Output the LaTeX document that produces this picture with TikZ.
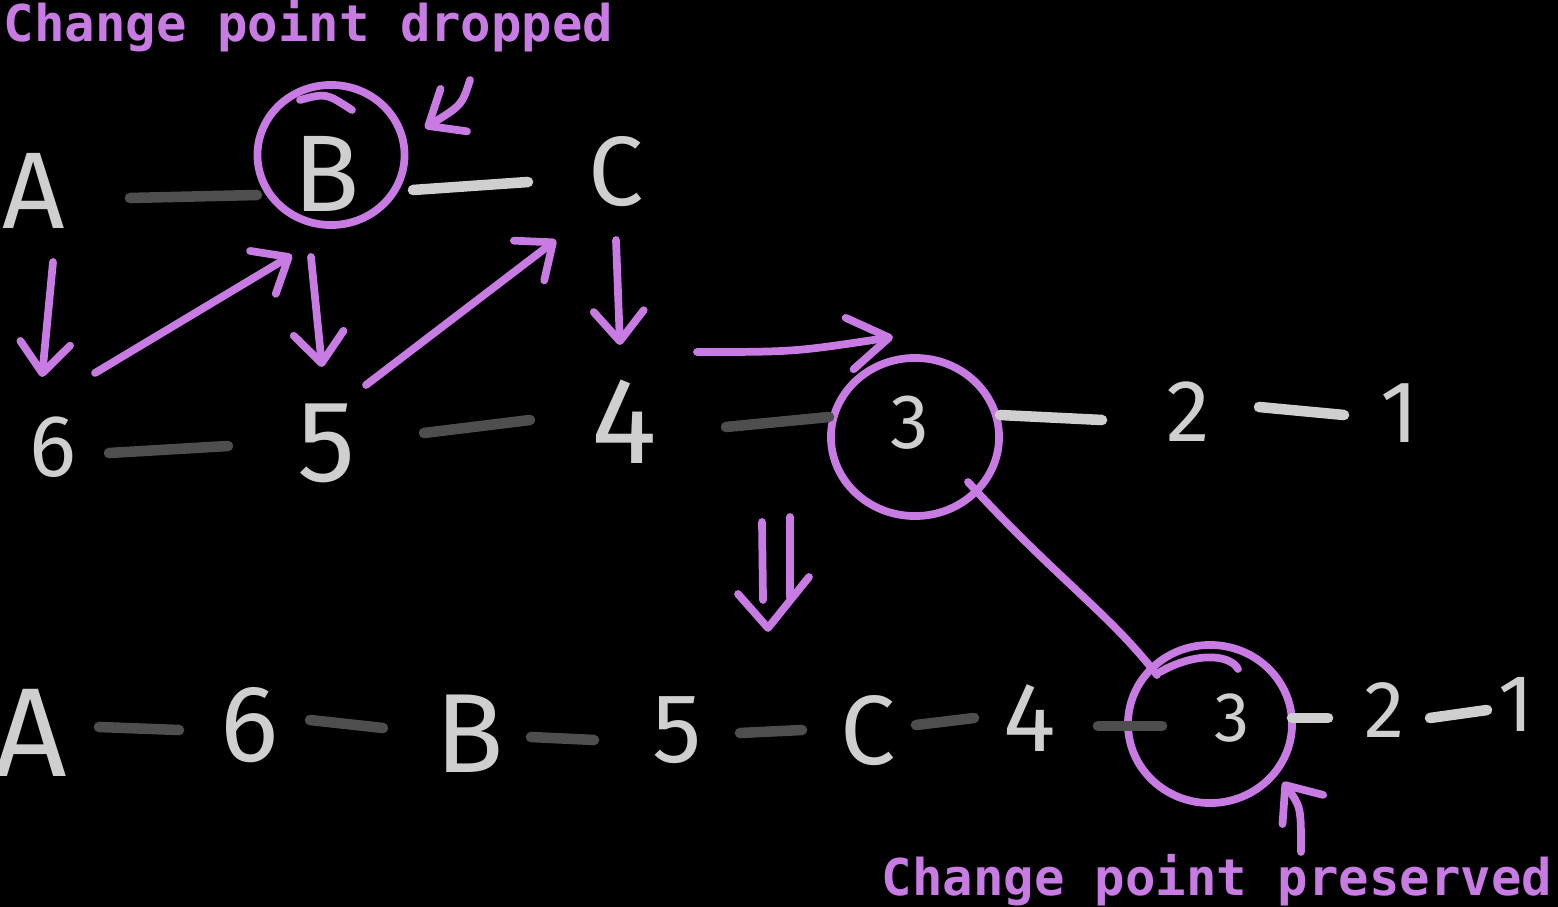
\documentclass[tikz,border=0pt]{standalone}
\usepackage{fontspec}
\setsansfont{Fira Sans}
\setmonofont{DejaVu Sans Mono}
\usetikzlibrary{arrows.meta,calc,shapes.geometric}
\definecolor{lilac}{HTML}{C97BE4}
\definecolor{chalk}{HTML}{CFCFCF}
\definecolor{slate}{HTML}{4E4E4E}

\begin{document}
\begin{tikzpicture}[x=0.01cm,y=-0.01cm,
		glyph/.style={text=chalk,inner sep=0pt,font=\sffamily\fontsize{#1}{#1}\selectfont},
		glyph/.default=30,
		note/.style={text=lilac,inner sep=0pt,font=\ttfamily\bfseries\fontsize{14.4}{15}\selectfont},
		ring/.style={ellipse,draw=lilac,line width=2.2pt,inner sep=0pt},
		darkdash/.style={draw=slate,line width=3pt,line cap=round},
		lightdash/.style={draw=chalk,line width=3pt,line cap=round},
		pline/.style={draw=lilac,line width=2.2pt,line cap=round,line join=round},
		parrow/.style={pline,-{Straight Barb[length=0.3cm,width=0.5cm,round]}}]
	\fill[black] (0,0) rectangle (1558,907);
	\useasboundingbox (0,0) rectangle (1558,907);

	% titles
	\node[note,anchor=base west] (droptitle) at (3,42) {Change point dropped};
	\node[note,anchor=base east] (keeptitle) at (1553,895) {Change point preserved};

	% top row
	\node[glyph=31] (ta) at (34,191) {A};
	\node[glyph=31] (tb) at (327,174) {B};
	\node[glyph=28] (tc) at (616,172) {C};
	\node[ring,minimum width=1.47cm,minimum height=1.40cm] (tbring) at (331,155) {};
	\draw[pline] ($(tbring)+(-31,-55)$) .. controls ($(tbring)+(-5,-62)$) .. ($(tbring)+(21,-45)$);

	% middle row
	\node[glyph=25] (m6) at (53,447) {6};
	\node[glyph=33] (m5) at (327,443) {5};
	\node[glyph=35] (m4) at (624,422) {4};
	\node[glyph=22] (m3) at (910,423) {3};
	\node[glyph=25] (m2) at (1188,412) {2};
	\node[glyph=25] (m1) at (1400,413) {1};
	\node[ring,minimum width=1.68cm,minimum height=1.58cm] (m3ring) at (915,437) {};

	% bottom row
	\node[glyph=36] (ba) at (31,733) {A};
	\node[glyph=31] (b6) at (250,725) {6};
	\node[glyph=32] (bb) at (470,734) {B};
	\node[glyph=28] (b5) at (677,730) {5};
	\node[glyph=28] (bc) at (868,731) {C};
	\node[glyph=28] (b4) at (1030,718) {4};
	\node[glyph=20] (b3) at (1232,718) {3};
	\node[glyph=23] (b2) at (1384,710) {2};
	\node[glyph=23] (b1) at (1516,704) {1};
	\node[ring,minimum width=1.64cm,minimum height=1.58cm] (b3ring) at (1210,724) {};
	\draw[pline] ($(b3ring)+(-50,-52)$) .. controls ($(b3ring)+(-15,-72)$) and ($(b3ring)+(20,-70)$) .. ($(b3ring)+(28,-55)$);

	% links, top
	\draw[darkdash] ($(ta)+(96,7)$) -- ($(tbring)+(-74,40)$);
	\draw[lightdash] ($(tbring)+(82,35)$) -- ($(tc)+(-88,10)$);

	% links, middle
	\draw[darkdash] ($(m6)+(56,6)$) -- ($(m5)+(-99,3)$);
	\draw[darkdash] ($(m5)+(97,-10)$) -- ($(m4)+(-94,-2)$);
	\draw[darkdash] ($(m4)+(102,5)$) -- ($(m3ring)+(-86,-20)$);
	\draw[lightdash] ($(m3ring)+(85,-22)$) -- ($(m2)+(-86,8)$);
	\draw[lightdash] ($(m2)+(71,-5)$) -- ($(m1)+(-56,2)$);

	% links, bottom
	\draw[darkdash] ($(ba)+(68,-6)$) -- ($(b6)+(-71,5)$);
	\draw[darkdash] ($(b6)+(60,-5)$) -- ($(bb)+(-87,-6)$);
	\draw[darkdash] ($(bb)+(61,3)$) -- ($(b5)+(-83,10)$);
	\draw[darkdash] ($(b5)+(63,3)$) -- ($(bc)+(-66,-1)$);
	\draw[darkdash] ($(bc)+(48,-6)$) -- ($(b4)+(-56,0)$);
	\draw[darkdash] ($(b4)+(68,8)$) -- ($(b3)+(-70,8)$);
	\draw[lightdash] ($(b3)+(60,0)$) -- ($(b2)+(-56,8)$);
	\draw[lightdash] ($(b2)+(46,8)$) -- ($(b1)+(-29,6)$);

	% merge order
	\draw[parrow] ($(ta)+(19,71)$) -- ($(m6)+(-11,-70)$);
	\draw[parrow] ($(m6)+(42,-74)$) -- ($(tb)+(-35,81)$);
	\draw[parrow] ($(tb)+(-16,83)$) -- ($(m5)+(-5,-76)$);
	\draw[parrow] ($(m5)+(39,-58)$) -- ($(tc)+(-60,68)$);
	\draw[parrow] ($(tc)+(0,68)$) -- ($(m4)+(-4,-77)$);
	\draw[parrow,-{Straight Barb[length=0.4cm,width=0.52cm,round]}] ($(m4)+(73,-70)$) .. controls ($(m4)+(170,-70)$) .. ($(m3ring)+(-22,-100)$);
	\draw[pline] ($(m3ring)+(53,45)$) .. controls ($(m3ring)+(140,140)$) and ($(b3ring)+(-100,-110)$) .. ($(b3ring)+(-53,-49)$);

	% result arrow
	\draw[pline] (762,522) -- (763,600);
	\draw[pline] (790,517) -- (790,597);
	\draw[pline] (738,594) -- (768,628) -- (809,577);

	% notes
	\coordinate (dropnote) at (470,80);
	\coordinate (keepnote) at (1301,852);
	\draw[parrow] (dropnote) .. controls ($(dropnote)+(-8,25)$) .. ($(tbring)+(94,-27)$);
	\draw[parrow] (keepnote) .. controls ($(keepnote)+(0,-45)$) .. ($(b3ring)+(73,58)$);
\end{tikzpicture}
\end{document}
